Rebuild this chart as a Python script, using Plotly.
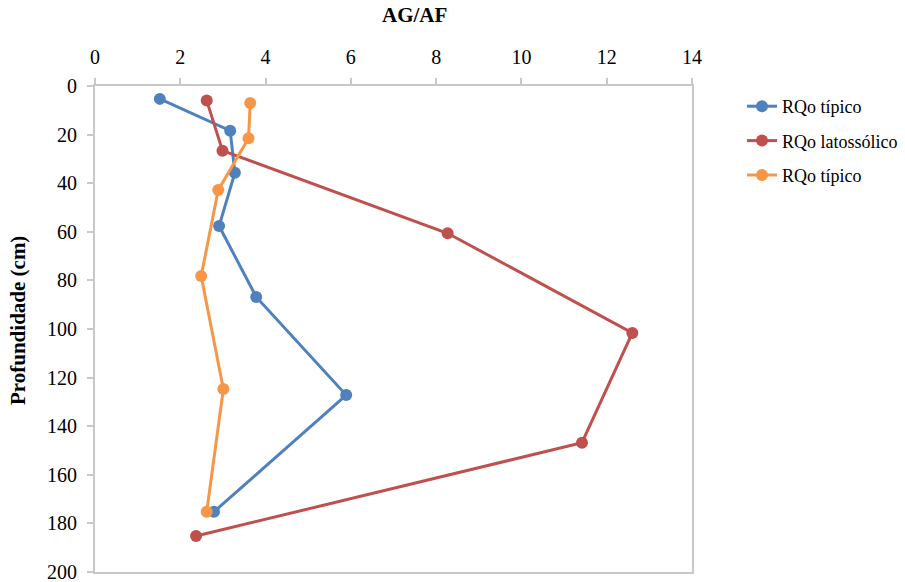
import plotly.graph_objects as go

# AG/AF ratio by depth for three soil profiles
blue_ratio = [1.52, 3.17, 3.28, 2.91, 3.78, 5.89, 2.79]
blue_depth = [5.3, 18.4, 35.7, 57.6, 86.8, 127.2, 175.2]

red_ratio = [2.62, 2.99, 8.27, 12.60, 11.42, 2.37]
red_depth = [6.0, 26.6, 60.6, 101.6, 146.8, 185.2]

orange_ratio = [3.64, 3.60, 2.89, 2.49, 3.01, 2.62]
orange_depth = [7.0, 21.5, 42.8, 78.2, 124.7, 175.2]

series_names = ["RQo típico", "RQo latossólico", "RQo típico"]
series_colors = ["#4F81BD", "#C0504D", "#F79646"]

x_ticks = [0, 2, 4, 6, 8, 10, 12, 14]
y_ticks = [0, 20, 40, 60, 80, 100, 120, 140, 160, 180, 200]

font_family = "Liberation Serif, Times New Roman, serif"

W, H = 905, 582
ML, MR, MT, MB = 95, 213, 86, 10

fig = go.Figure()
for i, (name, color, xs, ys) in enumerate(zip(
    series_names,
    series_colors,
    [blue_ratio, red_ratio, orange_ratio],
    [blue_depth, red_depth, orange_depth],
)):
    fig.add_trace(
        go.Scatter(
            x=xs,
            y=ys,
            mode="lines+markers",
            name=name,
            legendgroup=f"g{i}",
            line=dict(color=color, width=3),
            marker=dict(color=color, size=12),
        )
    )

axis_line = "#C8C8C8"
common_axis = dict(
    showgrid=False,
    zeroline=False,
    showline=True,
    linecolor=axis_line,
    linewidth=2,
    mirror=True,
    ticks="outside",
    ticklen=6,
    tickwidth=1.5,
    tickcolor=axis_line,
    automargin=False,
    ticklabelstandoff=6,
    ticklabeloverflow="allow",
    tickfont=dict(size=20),
)

fig.update_layout(
    width=W,
    height=H,
    margin=dict(l=ML, r=MR, t=MT, b=MB),
    paper_bgcolor="white",
    plot_bgcolor="white",
    font=dict(family=font_family, size=20, color="black"),
    showlegend=True,
    legend=dict(
        xref="container",
        yref="container",
        x=742 / W,
        y=1 - 88 / H,
        xanchor="left",
        yanchor="top",
        font=dict(size=18),
        itemwidth=30,
        tracegroupgap=8,
        bgcolor="rgba(0,0,0,0)",
    ),
    xaxis=dict(side="top", range=[0, 14], tickvals=x_ticks, **common_axis),
    yaxis=dict(range=[200, 0], tickvals=y_ticks, **common_axis),
    annotations=[
        dict(
            text="<b>AG/AF</b>",
            x=414 / W, y=1 - 15 / H,
            xref="paper", yref="paper",
            showarrow=False,
            font=dict(size=21),
        ),
        dict(
            text="<b>Profundidade (cm)</b>",
            textangle=-90,
            x=18 / W, y=1 - 321 / H,
            xref="paper", yref="paper",
            showarrow=False,
            font=dict(size=21),
        ),
    ],
)

# Title annotations are given as page fractions; convert to plot-area fractions
plot_w = W - ML - MR
plot_h = H - MT - MB
for ann in fig.layout.annotations:
    ann.x = (ann.x * W - ML) / plot_w
    ann.y = (ann.y * H - MB) / plot_h
    ann.xanchor = "center"
    ann.yanchor = "middle"

fig.write_html("out.html")
